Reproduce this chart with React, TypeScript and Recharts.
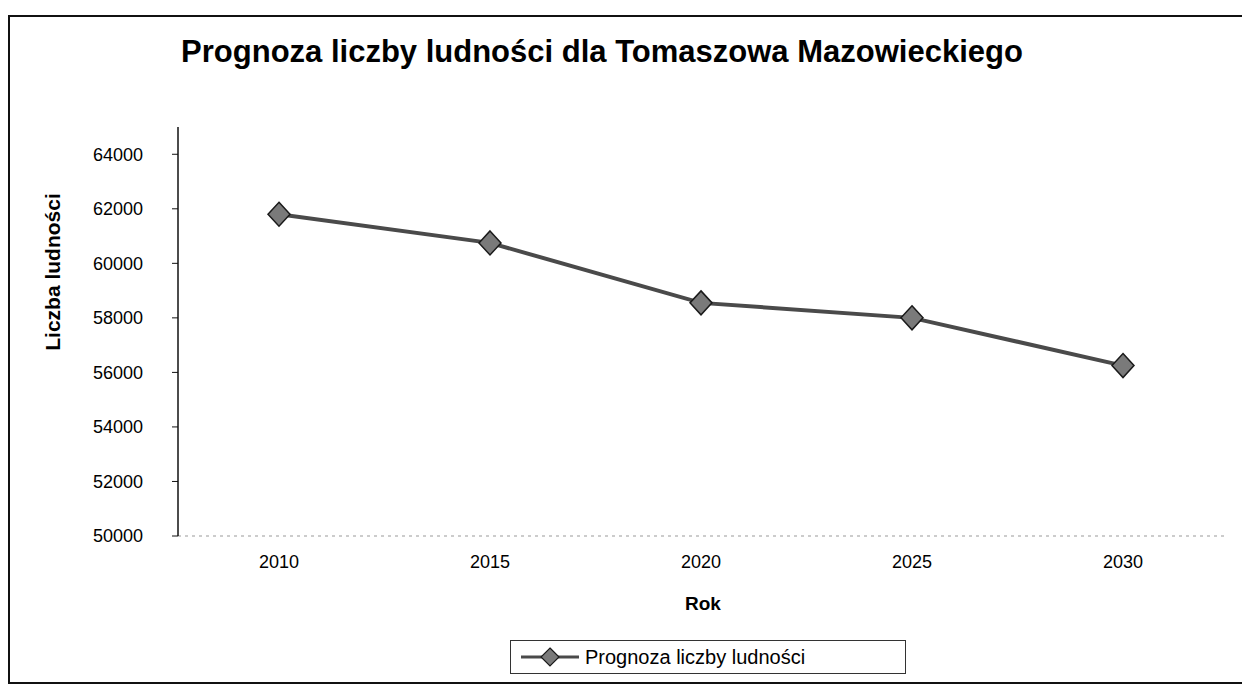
import React from 'react';
import { LineChart, Line, XAxis, YAxis, Legend } from 'recharts';

const years = ['2010', '2015', '2020', '2025', '2030'];
const population = [61800, 60750, 58550, 58000, 56250];
const yTicks = [50000, 52000, 54000, 56000, 58000, 60000, 62000, 64000];

const data = years.map((rok, i) => ({ rok, ludnosc: population[i] }));

const font = 'Arial, "Liberation Sans", Helvetica, sans-serif';

const Diamond = (props: any) => {
    const { cx, cy } = props;
    if (cx == null || cy == null) return null;
    return (
        <polygon
            points={`${cx},${cy - 12} ${cx + 11},${cy} ${cx},${cy + 12} ${cx - 11},${cy}`}
            fill="#7a7a7a"
            stroke="#1a1a1a"
            strokeWidth={1.5}
        />
    );
};

const LegendBox = (props: any) => {
    const { payload } = props;
    return (
        <div style={{ display: 'flex', alignItems: 'center', height: 32, paddingLeft: 8 }}>
            {(payload || []).map((entry: any) => (
                <React.Fragment key={entry.value}>
                    <svg width={62} height={24}>
                        <line x1={2} y1={12} x2={60} y2={12} stroke="#4a4a4a" strokeWidth={3} />
                        <polygon points="31,3 40,12 31,21 22,12" fill="#7a7a7a" stroke="#1a1a1a" strokeWidth={1.2} />
                    </svg>
                    <span style={{ fontFamily: font, fontSize: 20, color: '#000', marginLeft: 4 }}>{entry.value}</span>
                </React.Fragment>
            ))}
        </div>
    );
};

export default function App() {
    return (
        <div style={{ position: 'absolute', left: 0, top: 0, width: 1244, height: 684, background: '#fff' }}>
            <div
                style={{
                    position: 'absolute',
                    left: 8,
                    top: 15,
                    width: 1232,
                    height: 665,
                    border: '2px solid #111',
                    borderRight: 'none',
                }}
            />
            <div
                style={{
                    position: 'absolute',
                    left: 0,
                    top: 34,
                    width: 1204,
                    textAlign: 'center',
                    fontFamily: font,
                    fontWeight: 'bold',
                    fontSize: 31,
                    color: '#000',
                }}
            >
                Prognoza liczby ludności dla Tomaszowa Mazowieckiego
            </div>
            <div
                style={{
                    position: 'absolute',
                    left: 53,
                    top: 272,
                    transform: 'translate(-50%, -50%) rotate(-90deg)',
                    whiteSpace: 'nowrap',
                    fontFamily: font,
                    fontWeight: 'bold',
                    fontSize: 21,
                    color: '#000',
                }}
            >
                Liczba ludności
            </div>
            <div style={{ position: 'absolute', left: 0, top: 0 }}>
                <LineChart
                    width={1244}
                    height={684}
                    data={data}
                    margin={{ top: 127, right: 16, left: 40, bottom: 34 }}
                >
                    <XAxis
                        dataKey="rok"
                        padding={{ left: 101, right: 105 }}
                        axisLine={{ stroke: '#999', strokeDasharray: '3 4' }}
                        tickLine={false}
                        tickMargin={13}
                        height={80}
                        tick={{ fill: '#000', fontSize: 18, fontFamily: font }}
                        label={{
                            value: 'Rok',
                            position: 'insideBottom',
                            offset: 6,
                            style: { fill: '#000', fontSize: 19, fontWeight: 'bold', fontFamily: font },
                        }}
                    />
                    <YAxis
                        domain={[50000, 65000]}
                        ticks={yTicks}
                        width={138}
                        axisLine={{ stroke: '#111', strokeWidth: 1.5 }}
                        tickLine={{ stroke: '#111' }}
                        tickSize={6}
                        tickMargin={29}
                        tick={{ fill: '#000', fontSize: 18, fontFamily: font }}
                        interval={0}
                    />
                    <Legend
                        content={<LegendBox />}
                        wrapperStyle={{
                            position: 'absolute',
                            left: 510,
                            top: 640,
                            width: 394,
                            height: 32,
                            border: '1px solid #333',
                            background: '#fff',
                        }}
                    />
                    <Line
                        type="linear"
                        dataKey="ludnosc"
                        name="Prognoza liczby ludności"
                        stroke="#4a4a4a"
                        strokeWidth={4}
                        dot={<Diamond />}
                        activeDot={false}
                        isAnimationActive={false}
                    />
                </LineChart>
            </div>
        </div>
    );
}
